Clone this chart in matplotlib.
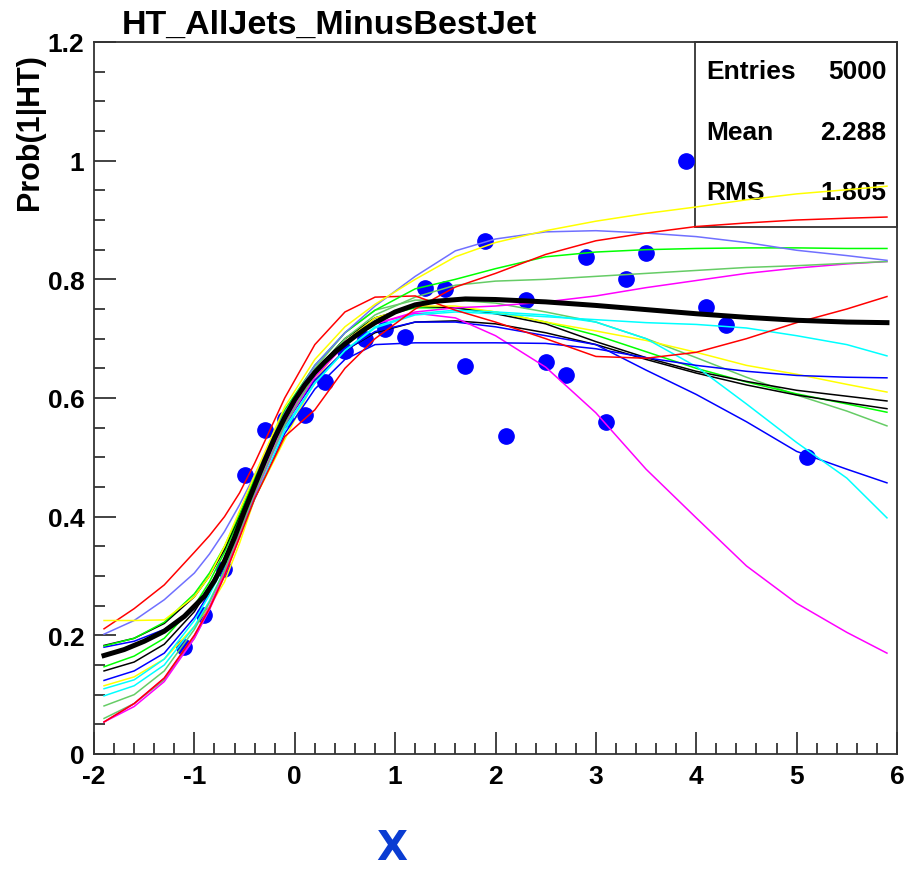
import numpy as np
import matplotlib.pyplot as plt
from matplotlib.ticker import MultipleLocator

plt.rcParams['font.family'] = ['Liberation Sans', 'DejaVu Sans']
plt.rcParams['axes.unicode_minus'] = False

# measured points
pt_x = [-1.1, -0.9, -0.7, -0.5, -0.3, -0.1, 0.1, 0.3, 0.5, 0.7, 0.9, 1.1, 1.3, 1.5,
        1.7, 1.9, 2.1, 2.3, 2.5, 2.7, 2.9, 3.1, 3.3, 3.5, 3.9, 4.1, 4.3, 5.1]
pt_y = [0.18, 0.234, 0.312, 0.47, 0.546, 0.565, 0.572, 0.627, 0.68, 0.70, 0.717, 0.703,
        0.786, 0.784, 0.654, 0.865, 0.536, 0.765, 0.661, 0.639, 0.838, 0.56, 0.80,
        0.845, 1.0, 0.754, 0.723, 0.50]

# x positions at which the fitted curves were read
fx = [-1.9, -1.6, -1.3, -1.0, -0.85, -0.7, -0.55, -0.4, -0.1, 0.2, 0.5, 0.8, 1.2, 1.6,
      2.0, 2.5, 3.0, 3.5, 4.0, 4.5, 5.0, 5.5, 5.9]

yellow_hi = [0.225, 0.225, 0.226, 0.265, 0.30, 0.35, 0.41, 0.47, 0.585, 0.665, 0.72,
             0.758, 0.80, 0.838, 0.862, 0.882, 0.898, 0.911, 0.922, 0.934, 0.944, 0.951, 0.957]
red_a = [0.211, 0.245, 0.285, 0.34, 0.368, 0.40, 0.44, 0.49, 0.60, 0.69, 0.745, 0.77,
         0.772, 0.748, 0.728, 0.70, 0.67, 0.667, 0.677, 0.70, 0.727, 0.75, 0.771]
red_b = [0.054, 0.085, 0.128, 0.20, 0.245, 0.30, 0.365, 0.43, 0.535, 0.58, 0.65, 0.70,
         0.75, 0.787, 0.81, 0.842, 0.865, 0.878, 0.889, 0.895, 0.90, 0.903, 0.905]
green_hi = [0.182, 0.195, 0.222, 0.27, 0.305, 0.35, 0.405, 0.465, 0.58, 0.655, 0.71,
            0.748, 0.784, 0.80, 0.818, 0.838, 0.846, 0.85, 0.852, 0.853, 0.853, 0.852, 0.852]
slate = [0.202, 0.225, 0.26, 0.305, 0.337, 0.375, 0.42, 0.47, 0.575, 0.655, 0.71,
         0.755, 0.805, 0.848, 0.868, 0.88, 0.882, 0.878, 0.872, 0.862, 0.849, 0.84, 0.832]
lgreen_hi = [0.081, 0.10, 0.14, 0.21, 0.255, 0.31, 0.375, 0.44, 0.555, 0.64, 0.70,
             0.74, 0.77, 0.79, 0.797, 0.80, 0.805, 0.81, 0.815, 0.82, 0.823, 0.827, 0.83]
magenta_hi = [0.054, 0.085, 0.128, 0.20, 0.248, 0.305, 0.372, 0.44, 0.56, 0.64, 0.695,
              0.725, 0.745, 0.752, 0.755, 0.762, 0.772, 0.786, 0.798, 0.81, 0.819, 0.826, 0.83]
cyan_hi = [0.098, 0.115, 0.15, 0.215, 0.258, 0.31, 0.368, 0.43, 0.545, 0.625, 0.68,
           0.718, 0.74, 0.745, 0.742, 0.737, 0.732, 0.727, 0.724, 0.718, 0.705, 0.69, 0.671]
blue_flat = [0.18, 0.19, 0.21, 0.245, 0.278, 0.32, 0.372, 0.43, 0.54, 0.615, 0.665,
             0.69, 0.693, 0.693, 0.693, 0.692, 0.683, 0.668, 0.655, 0.645, 0.638, 0.635, 0.634]
yellow_lo = [0.115, 0.13, 0.16, 0.215, 0.248, 0.29, 0.355, 0.43, 0.53, 0.63, 0.695,
             0.735, 0.755, 0.755, 0.745, 0.728, 0.713, 0.697, 0.677, 0.655, 0.64, 0.623, 0.61]
black_a = [0.183, 0.195, 0.22, 0.265, 0.30, 0.345, 0.402, 0.465, 0.575, 0.645, 0.70,
           0.735, 0.755, 0.752, 0.742, 0.725, 0.695, 0.668, 0.645, 0.628, 0.613, 0.603, 0.595]
black_b = [0.14, 0.155, 0.185, 0.24, 0.28, 0.33, 0.388, 0.45, 0.56, 0.63, 0.68, 0.71,
           0.728, 0.73, 0.725, 0.71, 0.69, 0.665, 0.642, 0.622, 0.605, 0.592, 0.582]
green_lo = [0.147, 0.165, 0.195, 0.25, 0.29, 0.34, 0.398, 0.46, 0.57, 0.645, 0.70,
            0.735, 0.752, 0.752, 0.745, 0.728, 0.706, 0.678, 0.65, 0.627, 0.607, 0.59, 0.576]
lgreen_lo = [0.06, 0.085, 0.125, 0.195, 0.245, 0.305, 0.373, 0.445, 0.565, 0.65, 0.71,
             0.748, 0.765, 0.765, 0.76, 0.745, 0.728, 0.70, 0.668, 0.635, 0.605, 0.578, 0.553]
blue_dn = [0.124, 0.14, 0.17, 0.23, 0.272, 0.325, 0.383, 0.445, 0.555, 0.63, 0.68,
           0.712, 0.728, 0.728, 0.72, 0.705, 0.69, 0.647, 0.606, 0.56, 0.51, 0.48, 0.457]
cyan_dn = [0.11, 0.125, 0.16, 0.225, 0.268, 0.32, 0.378, 0.44, 0.55, 0.625, 0.68,
           0.72, 0.742, 0.748, 0.745, 0.74, 0.728, 0.70, 0.653, 0.59, 0.525, 0.465, 0.398]
magenta_dn = [0.054, 0.08, 0.122, 0.195, 0.243, 0.30, 0.365, 0.435, 0.555, 0.635, 0.69,
              0.725, 0.743, 0.735, 0.705, 0.652, 0.575, 0.48, 0.398, 0.317, 0.254, 0.205, 0.17]

# thick mean fit, read on a finer grid
mx = [-1.9, -1.7, -1.5, -1.3, -1.1, -0.9, -0.8, -0.7, -0.6, -0.5, -0.4, -0.3, -0.2,
      -0.1, 0.0, 0.1, 0.2, 0.3, 0.4, 0.5, 0.6, 0.7, 0.8, 1.0, 1.2, 1.4, 1.7, 2.0, 2.5,
      3.0, 3.5, 4.0, 4.5, 5.0, 5.5, 5.9]
mean_fit = [0.166, 0.176, 0.19, 0.207, 0.232, 0.266, 0.292, 0.325, 0.365, 0.41, 0.452,
            0.494, 0.533, 0.567, 0.597, 0.622, 0.643, 0.661, 0.677, 0.691, 0.704, 0.716,
            0.727, 0.745, 0.757, 0.763, 0.767, 0.766, 0.762, 0.756, 0.749, 0.742, 0.736,
            0.731, 0.728, 0.727]

curves = [
    (lgreen_lo, '#66cc66'), (green_lo, '#00ff00'), (black_b, '#000000'),
    (black_a, '#000000'), (yellow_lo, '#ffff00'), (blue_dn, '#0000ff'),
    (cyan_dn, '#00ffff'), (magenta_dn, '#ff00ff'), (blue_flat, '#0000ff'),
    (cyan_hi, '#00ffff'), (magenta_hi, '#ff00ff'), (lgreen_hi, '#66cc66'),
    (red_a, '#ff0000'), (green_hi, '#00ff00'), (slate, '#7070ff'),
    (red_b, '#ff0000'), (yellow_hi, '#ffff00'),
]

fig = plt.figure(figsize=(9.16, 8.70), dpi=100)
ax = fig.add_axes([94 / 916, 1 - 755 / 870, 803 / 916, 712 / 870])

ax.plot(pt_x, pt_y, 'o', color='#0000ff', ms=11, zorder=2)
for ys, c in curves:
    ax.plot(fx, ys, color=c, lw=1.1, zorder=3)
ax.plot(mx, mean_fit, color='black', lw=3.6, zorder=4)

ax.set_xlim(-2, 6)
ax.set_ylim(0, 1.2)
ax.xaxis.set_major_locator(MultipleLocator(1))
ax.xaxis.set_minor_locator(MultipleLocator(0.2))
ax.yaxis.set_major_locator(MultipleLocator(0.2))
ax.yaxis.set_minor_locator(MultipleLocator(0.05))
ax.yaxis.set_major_formatter(lambda v, p: '%g' % round(v, 2))
ax.xaxis.set_major_formatter(lambda v, p: '%g' % round(v, 2))
ax.tick_params(which='both', direction='in', width=1.2, color='#222222')
ax.tick_params(which='major', length=16, labelsize=19, pad=7)
ax.tick_params(which='minor', length=8)
for lab in ax.get_xticklabels() + ax.get_yticklabels():
    lab.set_fontweight('bold')
for s in ax.spines.values():
    s.set_linewidth(1.3)
    s.set_color('#333333')

# stats box
ax.add_patch(plt.Rectangle((0.748, 0.740), 0.252, 0.260, transform=ax.transAxes,
                           fill=False, lw=1.3, ec='#333333', zorder=1, clip_on=False))
stats = [('Entries', '5000'), ('Mean', '2.288'), ('RMS', '1.805')]
for i, (k, v) in enumerate(stats):
    yy = 1 - (29 + 60.5 * i) / 712
    ax.text(0.762, yy, k, transform=ax.transAxes, fontsize=19, fontweight='bold',
            va='center', ha='left', zorder=1)
    ax.text(0.987, yy, v, transform=ax.transAxes, fontsize=19, fontweight='bold',
            va='center', ha='right', zorder=1)

fig.text(122 / 916, 1 - 25 / 870, 'HT_AllJets_MinusBestJet', fontsize=24.5,
         fontweight='bold', ha='left', va='center')
fig.text(30 / 916, 1 - 132 / 870, 'Prob(1|HT)', fontsize=22, fontweight='bold',
         rotation=90, ha='center', va='center')
fig.text(392 / 916, 1 - 849 / 870, 'X', fontsize=29, color='#0a3cd2',
         family='DejaVu Sans', fontweight='bold', ha='center', va='center')

fig.savefig('out.png', dpi=100)
